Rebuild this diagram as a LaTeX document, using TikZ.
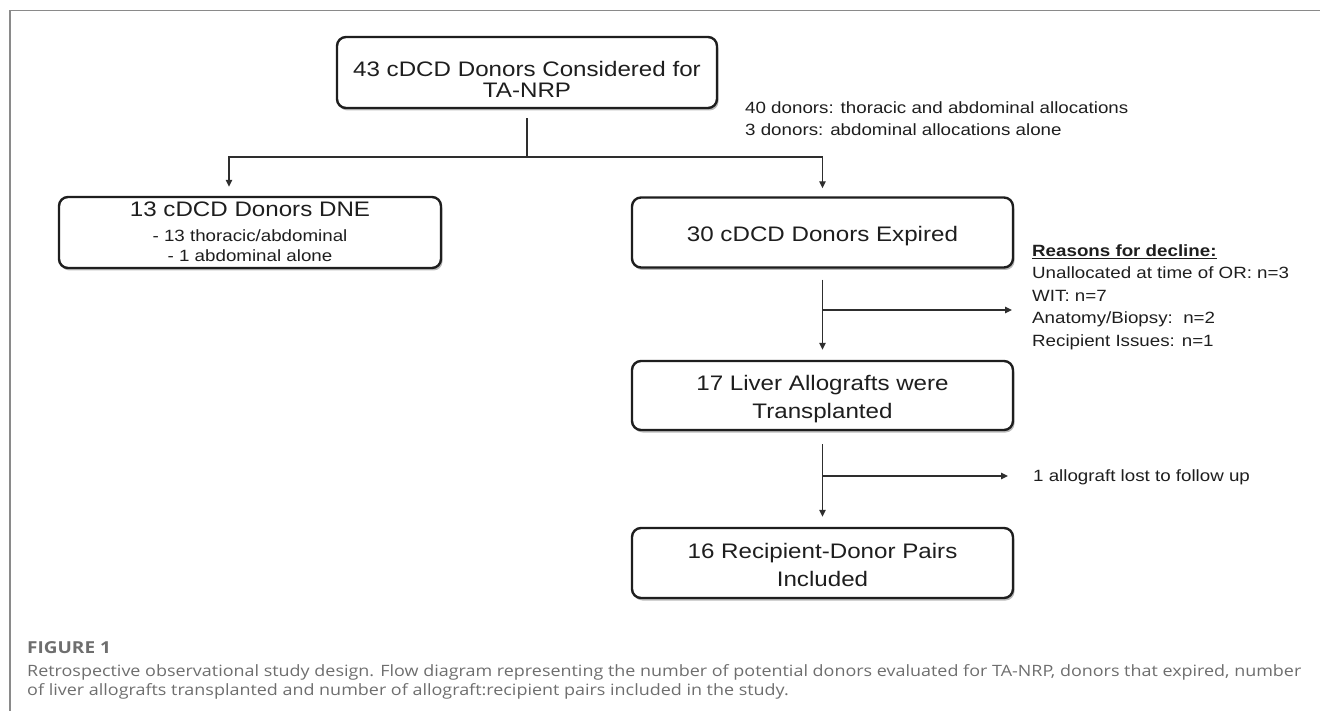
\documentclass[tikz,border=0pt]{standalone}
\usepackage{fontspec}
\setmainfont[FakeStretch=1.15]{Liberation Sans}
\newfontfamily\capfont[FakeStretch=1.15]{Open Sans}
\usetikzlibrary{arrows.meta,shadows}
\definecolor{ink}{HTML}{1E1E1E}
\definecolor{linec}{HTML}{2E2E2E}
\definecolor{framec}{HTML}{8A8A8A}
\definecolor{capc}{HTML}{6E6E6E}
\tikzset{
  flowbox/.style={draw=ink, line width=2.4pt, rounded corners=9pt, fill=white,
    drop shadow={shadow xshift=1.5pt, shadow yshift=-2.5pt, fill=black!50, opacity=.55},
    minimum width=380pt, minimum height=70pt, inner sep=0pt},
  conn/.style={draw=linec, line width=1.4pt},
  arr/.style={conn, -{Triangle[length=7pt,width=6.5pt]}},
  bigtxt/.style={anchor=base, inner sep=0pt, text=ink, font=\fontsize{21}{25}\selectfont},
  smalltxt/.style={anchor=base west, inner sep=0pt, text=ink, font=\fontsize{16.3}{20}\selectfont},
  subtxt/.style={anchor=base, inner sep=0pt, text=ink, font=\fontsize{16.3}{20}\selectfont},
  captxt/.style={anchor=base west, inner sep=0pt, text=capc, font=\capfont\fontsize{15.6}{19}\selectfont},
}
\begin{document}
\begin{tikzpicture}[x=1pt,y=-1pt]
\useasboundingbox (0,0) rectangle (1320,711);
% frame
\draw[draw=framec, line width=1.5pt] (10,711) -- (10,10.5) -- (1320,10.5);

% boxes
\node[flowbox, minimum width=380pt, minimum height=71pt] (t) at (527,72.5) {};
\node[flowbox, minimum width=382pt, minimum height=71pt] (l) at (250,232.5) {};
\node[flowbox, minimum width=381pt] (r1) at (822.5,232.5) {};
\node[flowbox, minimum width=381pt, minimum height=69pt] (r2) at (822.5,395.5) {};
\node[flowbox, minimum width=381pt] (r3) at (822.5,563) {};

% box texts
\node[bigtxt] (t1) at (527,76.5) {43 cDCD Donors Considered for};
\node[bigtxt] (t2) at (527,97.5) {TA-NRP};
\node[bigtxt] (l1) at (250,216.7) {13 cDCD Donors DNE};
\node[subtxt] (l2) at (250,241.7) {- 13 thoracic/abdominal};
\node[subtxt] (l3) at (250,262) {- 1 abdominal alone};
\node[bigtxt] (r1t) at (822.5,241.2) {30 cDCD Donors Expired};
\node[bigtxt] (r2a) at (822.5,390) {17 Liver Allografts were};
\node[bigtxt] (r2b) at (822.5,418.3) {Transplanted};
\node[bigtxt] (r3a) at (822.5,558) {16 Recipient-Donor Pairs};
\node[bigtxt] (r3b) at (822.5,586) {Included};

% side notes
\node[smalltxt] (n1) at (745,113.3) {40 donors: thoracic and abdominal allocations};
\node[smalltxt] (n2) at (745,136) {3 donors: abdominal allocations alone};
\node[smalltxt, font=\fontsize{16.3}{20}\selectfont\bfseries] (d0) at (1032,256.7) {\underline{Reasons for decline:}};
\node[smalltxt] (d1) at (1032,279) {Unallocated at time of OR: n=3};
\node[smalltxt] (d2) at (1032,301.7) {WIT: n=7};
\node[smalltxt] (d3) at (1032,323.3) {Anatomy/Biopsy:\ \ n=2};
\node[smalltxt] (d4) at (1032,346) {Recipient Issues: n=1};
\node[smalltxt] (f1) at (1033,481.7) {1 allograft lost to follow up};

% connectors
\coordinate (j) at (527,157);
\draw[conn, shorten <=9pt] (t.south) -- (j);
\draw[arr, shorten >=9pt] (j) -| ([xshift=-21pt]l.north);
\draw[arr, shorten >=8pt] (j) -| (r1.north);
\draw[arr, shorten <=11pt, shorten >=10pt] (r1.south) -- (r2.north);
\coordinate (b1) at (822.5,310);
\coordinate (e1) at (1012,310);
\draw[arr] (b1) -- (e1);
\draw[arr, shorten <=13pt, shorten >=10pt] (r2.south) -- (r3.north);
\coordinate (b2) at (822.5,476);
\coordinate (e2) at (1008,476);
\draw[arr] (b2) -- (e2);

% caption
\node[captxt, font=\capfont\bfseries\fontsize{16.5}{19}\selectfont] (cap0) at (27,653) {FIGURE 1};
\node[captxt] (cap1) at (27,676) {Retrospective observational study design. Flow diagram representing the number of potential donors evaluated for TA-NRP, donors that expired, number};
\node[captxt] (cap2) at (27,695) {of liver allografts transplanted and number of allograft:recipient pairs included in the study.};
\end{tikzpicture}
\end{document}
